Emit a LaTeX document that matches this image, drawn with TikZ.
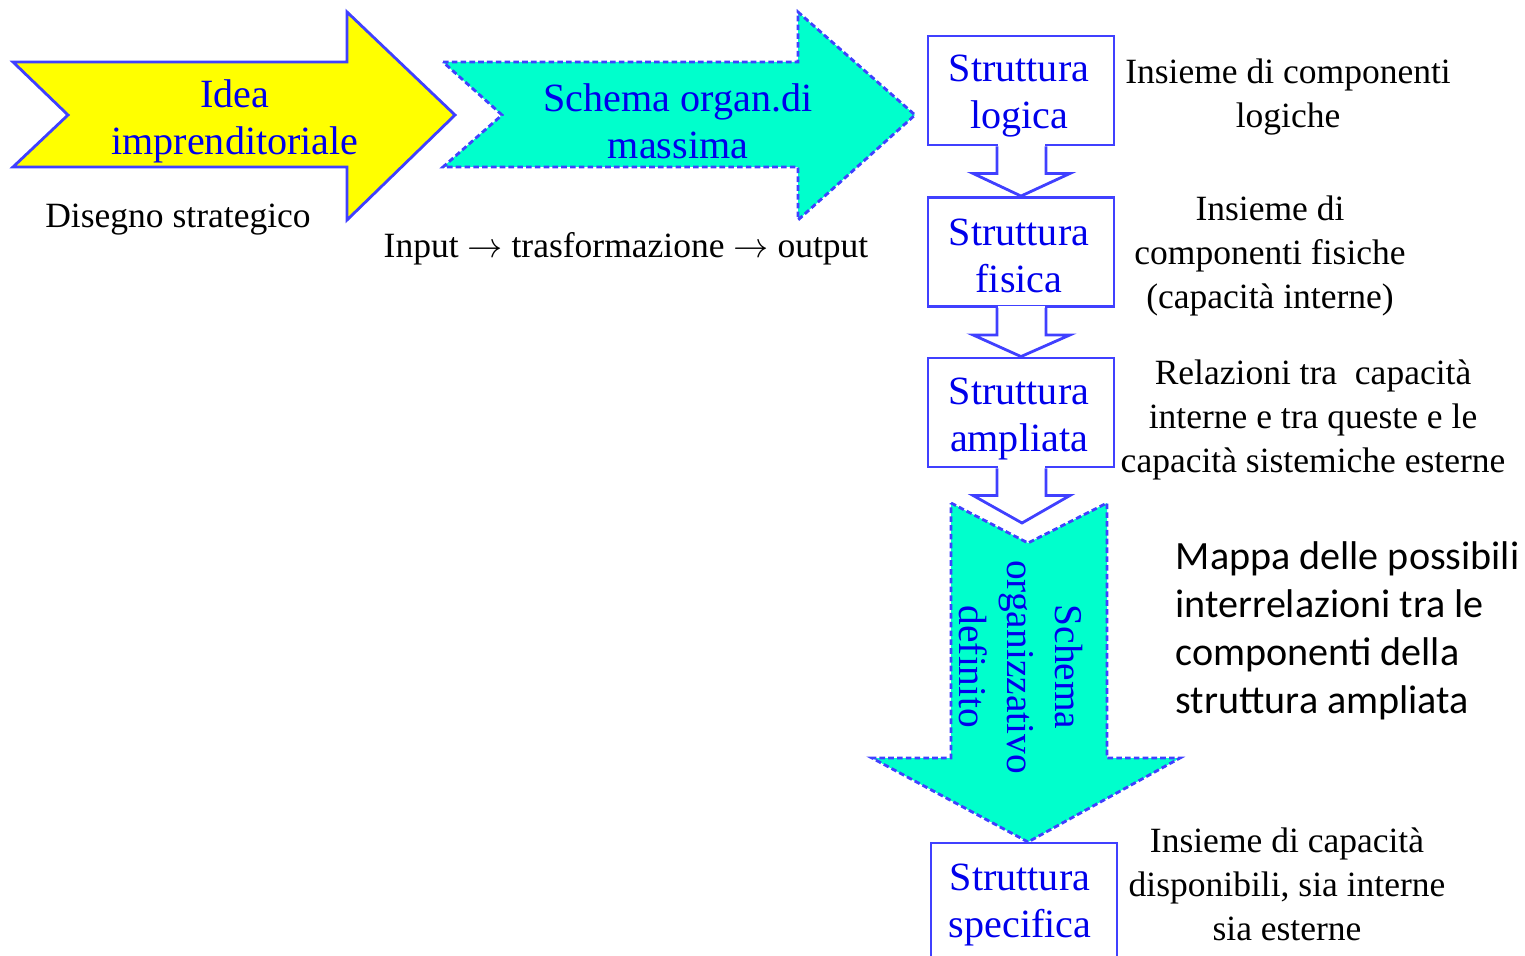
\documentclass[tikz,border=0pt]{standalone}
\usepackage{fontspec}
\setmainfont{Liberation Serif}
\newfontfamily\calibrisub{Carlito}
\usetikzlibrary{calc}
\definecolor{bordblue}{RGB}{64,64,255}
\definecolor{txtblue}{RGB}{0,0,235}
\definecolor{aqua}{RGB}{0,255,204}
\definecolor{yel}{RGB}{255,255,0}
\begin{document}
\begin{tikzpicture}[x=0.01cm,y=-0.01cm,
  box/.style={draw=bordblue,line width=0.8pt,fill=white,minimum width=1.86cm,minimum height=1.09cm,inner sep=0pt},
  boxtxt/.style={align=center,inner sep=0pt,text=txtblue,font=\fontsize{11.4}{13.4}\selectfont},
  desc/.style={align=center,inner sep=0pt,font=\fontsize{10.1}{12.5}\selectfont},
  arrowtxt/.style={align=center,inner sep=0pt,text=txtblue,font=\fontsize{11.4}{13.4}\selectfont},
  bigarrow/.style={draw=bordblue,line width=0.8pt,line join=miter},
  dashedarrow/.style={bigarrow,dash pattern=on 1.6pt off 0.9pt},
  hollow/.style={draw=bordblue,line width=0.8pt,line join=miter}]
\useasboundingbox (0,0) rectangle (1525,955);

% big horizontal arrows
\draw[bigarrow,fill=yel] (13,62) -- (347,62) -- (347,12) -- (455,115) -- (347,220) -- (347,167) -- (13,167) -- (68,115) -- cycle;
\node[arrowtxt] (idea) at (235,121) {Idea\\imprenditoriale};
\draw[dashedarrow,fill=aqua] (443,62) -- (798,62) -- (798,12) -- (915,115) -- (798,220) -- (798,167) -- (443,167) -- (502,115) -- cycle;
\node[arrowtxt] (schema) at (678,121) {Schema organ.di\\massima};

\node[desc] (disegno) at (178,220) {Disegno strategico};
\node[desc] (io) at (626,249) {Input $\rightarrow$ trasformazione $\rightarrow$ output};

% vertical big arrow
\draw[dashedarrow,fill=aqua] (951,503) -- (1028,543) -- (1107,503) -- (1107,758) -- (1180,758) -- (1028,842) -- (872,758) -- (951,758) -- cycle;
\node[arrowtxt,rotate=-90,font=\fontsize{11.2}{13.7}\selectfont] (sod) at (1021,667) {Schema\\organizzativo\\definito};

% boxes
\node[box] (b1) at (1021,90.5) {};
\node[boxtxt] (b1t) at (1019,96) {Struttura\\logica};
\node[box] (b2) at (1021,252) {};
\node[boxtxt] (b2t) at (1019,256) {Struttura\\fisica};
\node[box] (b3) at (1021,412.5) {};
\node[boxtxt] (b3t) at (1019,419) {Struttura\\ampliata};
\node[box,minimum height=1.25cm] (b4) at (1024,905.5) {};
\node[boxtxt] (b4t) at (1020,905) {Struttura\\specifica};
\coordinate (t3) at (1022,523);

% hollow arrows between boxes
\foreach \a/\b in {b1/b2.north,b2/b3.north,b3/t3}{
  \fill[white] ($(\a.south)+(-23.5,-2)$) rectangle ($(\a.south)+(23.5,2)$);
  \draw[hollow] ($(\a.south)+(-24,0)$) -- ($(\a.south)+(-24,27)$) -- ($(\a.south)+(-48,27)$) -- (\b) -- ($(\a.south)+(49,27)$) -- ($(\a.south)+(25,27)$) -- ($(\a.south)+(25,0)$);
}

% descriptions
\node[desc] (d1) at (1288,97) {Insieme di componenti\\logiche};
\node[desc] (d2) at (1270,256) {Insieme di\\componenti fisiche\\(capacità interne)};
\node[desc] (d3) at (1313,420) {Relazioni tra~~capacità\\interne e tra queste e le\\capacità sistemiche esterne};
\node[anchor=west,align=left,inner sep=0pt,font=\calibrisub\fontsize{11.4}{13.66}\selectfont] (d4) at (1175,631) {Mappa delle possibili\\interrelazioni tra le\\componenti della\\struttura ampliata};
\node[desc] (d5) at (1287,884) {Insieme di capacità\\disponibili, sia interne\\sia esterne};
\end{tikzpicture}
\end{document}
